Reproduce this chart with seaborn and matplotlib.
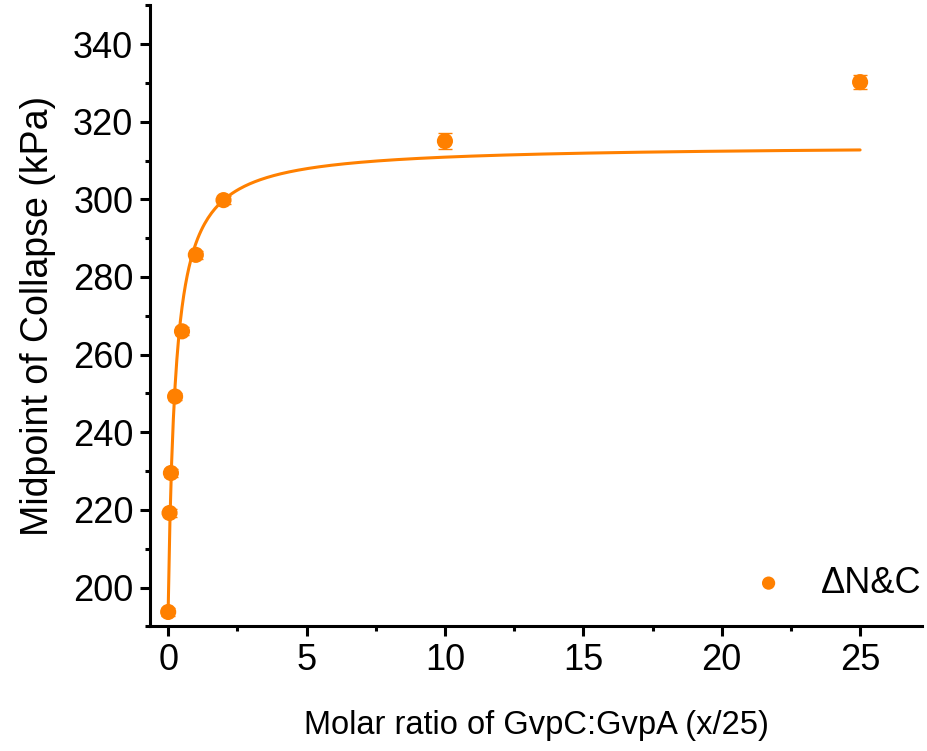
import numpy as np
import pandas as pd
import matplotlib
matplotlib.use('Agg')
import matplotlib.pyplot as plt
from matplotlib.ticker import MultipleLocator
import seaborn as sns

# measured points
ratio = [0, 0.05, 0.1, 0.25, 0.5, 1, 2, 10, 25]
midpoint = [193.7, 219.2, 229.5, 249.2, 266.0, 285.7, 299.8, 315.0, 330.2]
err = [1.0, 1.0, 1.0, 1.0, 1.0, 1.0, 1.0, 2.1, 1.9]
label = 'ΔN&C'
color = '#ff8000'

# hyperbolic fit y = y0 + vmax * x / (k + x), parameters
fit_y0 = 194.0
fit_vmax = 120.0
fit_k = 0.268


def main():
    sns.set_style('ticks', rc={'axes.edgecolor': 'black', 'xtick.color': 'black',
                               'ytick.color': 'black', 'text.color': 'black',
                               'axes.labelcolor': 'black'})
    plt.rcParams['font.family'] = ['Liberation Sans', 'DejaVu Sans']

    fig = plt.figure(figsize=(9.27, 7.51), dpi=100)
    ax = fig.add_axes([0.162, 0.166, 0.833, 0.827])

    xs = np.linspace(0, max(ratio), 400)
    curve = pd.DataFrame({'x': xs, 'y': fit_y0 + fit_vmax * xs / (fit_k + xs)})
    sns.lineplot(data=curve, x='x', y='y', color=color, linewidth=2.2, ax=ax)

    ax.errorbar(ratio, midpoint, yerr=err, fmt='none', ecolor=color,
                elinewidth=1.0, capsize=4.7, capthick=1.0, zorder=3)
    df = pd.DataFrame({'x': ratio, 'y': midpoint})
    sns.scatterplot(data=df, x='x', y='y', color=color, s=135,
                    edgecolor='none', label=label, ax=ax, zorder=4)

    ax.set_xlim(-0.65, 27.25)
    ax.set_ylim(190, 350)
    ax.xaxis.set_major_locator(MultipleLocator(5))
    ax.xaxis.set_minor_locator(MultipleLocator(2.5))
    ax.yaxis.set_major_locator(MultipleLocator(20))
    ax.yaxis.set_minor_locator(MultipleLocator(10))
    ax.tick_params(which='major', length=7.2, width=2.2, labelsize=26, pad=5, direction='out')
    ax.tick_params(which='minor', length=3.6, width=2.2, direction='out')
    for s in ['left', 'bottom']:
        ax.spines[s].set_linewidth(2.2)
    sns.despine(ax=ax)

    ax.set_xlabel('Molar ratio of GvpC:GvpA (x/25)', fontsize=23.5, labelpad=23)
    ax.set_ylabel('Midpoint of Collapse (kPa)', fontsize=27, labelpad=12)

    ax.legend(loc='lower right', bbox_to_anchor=(1.013, 0.024), frameon=False,
              fontsize=26, handlelength=1.0, handletextpad=0.95,
              borderaxespad=0.0, borderpad=0.3, markerscale=0.82)

    fig.savefig('out.png', dpi=100)
    plt.close(fig)


if __name__ == '__main__':
    main()
